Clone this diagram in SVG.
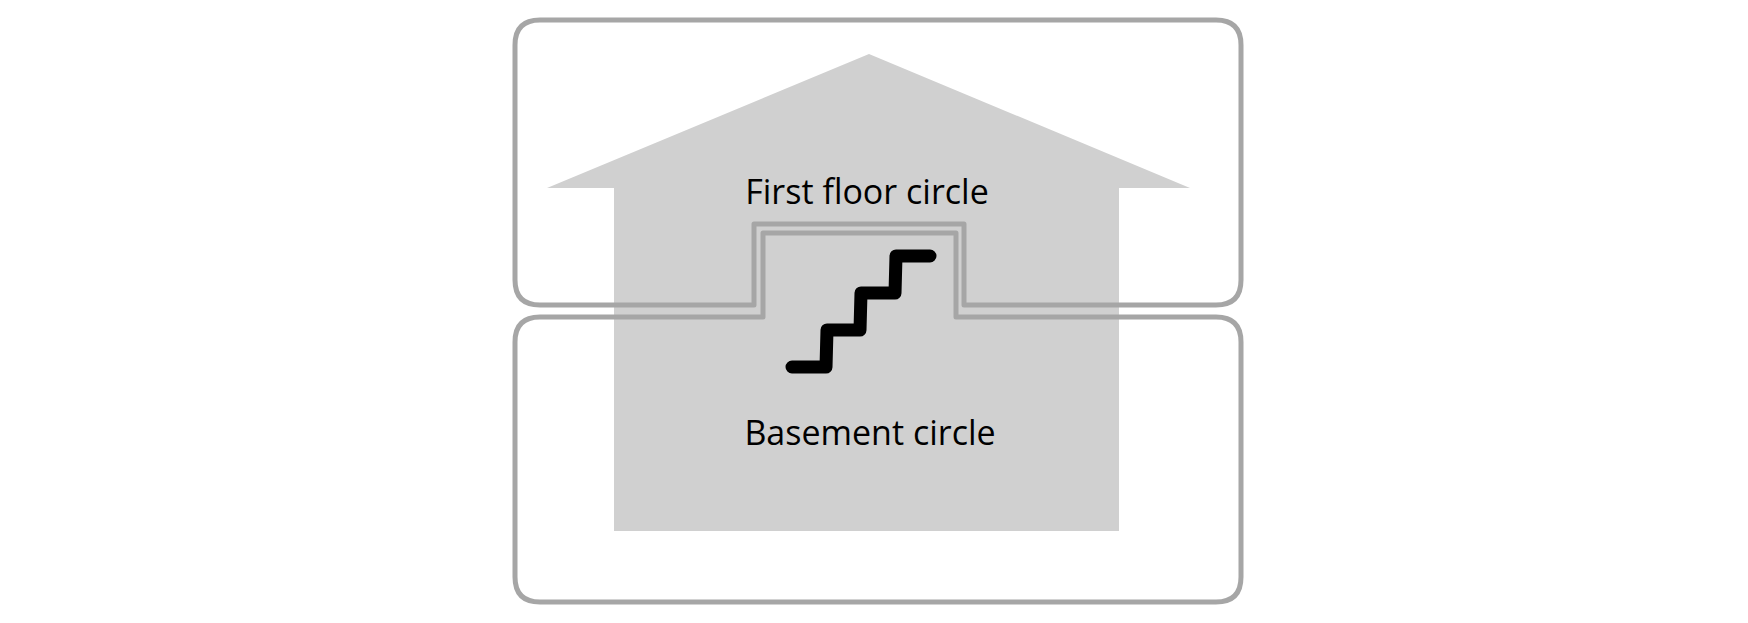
<svg xmlns="http://www.w3.org/2000/svg" width="1748" height="623" viewBox="0 0 1748 623">
<style>
.box{fill:none;stroke:#a6a6a6;stroke-width:5;stroke-linejoin:round}
.lbl{font-family:"Open Sans","Liberation Sans",sans-serif;font-size:34px;fill:#000;text-anchor:middle}
</style>
<rect width="1748" height="623" fill="#fff"/>
<g id="house"><polygon points="869,54 1190,188 1119,188 1119,531 614,531 614,188 547,188" fill="#d0d0d0"/></g>
<g id="first-floor">
<path class="box" d="M540,20 H1216 Q1241,20 1241,45 V280 Q1241,305 1216,305 H964 V224 H754 V305 H540 Q515,305 515,280 V45 Q515,20 540,20 Z"/>
<text class="lbl" x="867" y="204">First floor circle</text>
</g>
<g id="basement">
<path class="box" d="M540,317 H763 V233 H956 V317 H1216 Q1241,317 1241,342 V577 Q1241,602 1216,602 H540 Q515,602 515,577 V342 Q515,317 540,317 Z"/>
<text class="lbl" x="870" y="445">Basement circle</text>
</g>
<g id="connectors">
<polyline points="792,367 826,367 827,330 860,330 861,293 895,293 896,256 930,256" fill="none" stroke="#000" stroke-width="13" stroke-linecap="round" stroke-linejoin="round"/>
</g>
</svg>
